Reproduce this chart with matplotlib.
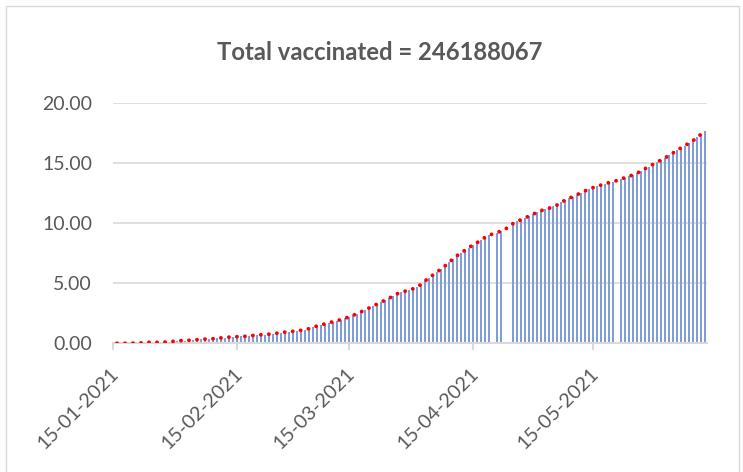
import numpy as np
import pandas as pd
import matplotlib
matplotlib.use('Agg')
import matplotlib.pyplot as plt
import matplotlib.dates as mdates
import matplotlib.transforms as mtransforms
from matplotlib.patches import Rectangle

plt.rcParams['font.family'] = ['Lato', 'DejaVu Sans']

# Daily data: share of population vaccinated (%) from 16-01-2021 to 12-06-2021
start_date = '2021-01-16'
pct_vaccinated = [
    0.00, 0.00, 0.00, 0.00, 0.01, 0.02, 0.03, 0.05, 0.08, 0.08,
    0.08, 0.09, 0.10, 0.12, 0.16, 0.19, 0.22, 0.23, 0.25, 0.27,
    0.30, 0.32, 0.35, 0.37, 0.38, 0.40, 0.45, 0.48, 0.51, 0.53,
    0.55, 0.57, 0.58, 0.60, 0.65, 0.69, 0.71, 0.72, 0.76, 0.80,
    0.84, 0.88, 0.93, 0.97, 1.00, 1.03, 1.08, 1.12, 1.22, 1.34,
    1.44, 1.52, 1.62, 1.71, 1.80, 1.88, 1.98, 2.08, 2.20, 2.32,
    2.48, 2.62, 2.78, 2.94, 3.10, 3.26, 3.41, 3.57, 3.75, 3.93,
    4.12, 4.25, 4.34, 4.45, 4.54, 4.70, 4.90, 5.20, 5.45, 5.70,
    5.95, 6.18, 6.45, 6.75, 7.03, 7.30, 7.53, 7.75, 7.98, 8.20,
    8.38, 8.62, 8.82, 9.00, 9.12, 9.22, 9.36, 9.50, 9.72, 9.97,
    10.15, 10.30, 10.44, 10.60, 10.75, 10.92, 11.06, 11.15, 11.25, 11.40,
    11.52, 11.75, 11.92, 12.08, 12.23, 12.38, 12.55, 12.70, 12.85, 12.97,
    13.08, 13.19, 13.29, 13.39, 13.48, 13.56, 13.68, 13.81, 13.92, 14.03,
    14.18, 14.35, 14.55, 14.73, 14.92, 15.10, 15.28, 15.45, 15.65, 15.86,
    16.08, 16.28, 16.48, 16.68, 16.88, 17.15, 17.42, 17.65,
]
# days where the bar is missing in the source
missing_bar_dates = ['2021-04-20', '2021-04-23', '2021-04-24', '2021-05-21']
tick_dates = ['2021-01-15', '2021-02-15', '2021-03-15', '2021-04-15', '2021-05-15']
title = 'Total vaccinated = 246188067'

dates = pd.date_range(start_date, periods=len(pct_vaccinated), freq='D')
s = pd.Series(pct_vaccinated, index=dates)
bars = s.copy()
bars[pd.to_datetime(missing_bar_dates)] = np.nan

gray = '#595959'
grid = '#d9d9d9'

fig = plt.figure(figsize=(7.43, 4.72), dpi=100)
ax = fig.add_axes([113 / 743, 1 - 343.3 / 472, 594 / 743, 240 / 472])

ax.bar(bars.index, bars.values, width=0.45, color='#7f9dd6',
       linewidth=0, zorder=2)
ax.plot(s.index, s.values, color='#ff0000', linewidth=2.8,
        linestyle=(0, (0.01, 2.05)), dash_capstyle='round', zorder=3)

ax.set_ylim(0, 20)
ax.set_yticks(np.arange(0, 21, 5))
ax.yaxis.set_major_formatter(matplotlib.ticker.FormatStrFormatter('%.2f'))
ax.set_xlim(pd.Timestamp('2021-01-15'), pd.Timestamp('2021-01-15') + pd.Timedelta(days=148.5))
ax.set_xticks(pd.to_datetime(tick_dates))
ax.xaxis.set_major_formatter(mdates.DateFormatter('%d-%m-%Y'))

ax.grid(axis='y', color=grid, linewidth=1.2, zorder=0)
for side in ['top', 'right', 'left']:
    ax.spines[side].set_visible(False)
ax.spines['bottom'].set_color(grid)
ax.spines['bottom'].set_linewidth(1.5)
ax.tick_params(axis='y', length=0, pad=15, labelsize=14, labelcolor=gray)
ax.tick_params(axis='x', length=5, color=grid, width=1.5, labelsize=14.2,
               labelcolor=gray, pad=15)
shift = mtransforms.ScaledTranslation(3 / 100, 0, fig.dpi_scale_trans)
for lbl in ax.get_xticklabels():
    lbl.set_rotation(45)
    lbl.set_ha('right')
    lbl.set_va('center')
    lbl.set_rotation_mode('anchor')
    lbl.set_transform(lbl.get_transform() + shift)

fig.text(380 / 743, 1 - 53 / 472, title, ha='center', va='center',
         fontsize=17.2, fontweight='bold', color=gray)

fig.patches.append(Rectangle((6 / 743, -0.05), 733 / 743, 1.05 - 6 / 472,
                             transform=fig.transFigure, fill=False,
                             edgecolor=grid, linewidth=1))

fig.savefig('out.png', dpi=100)
